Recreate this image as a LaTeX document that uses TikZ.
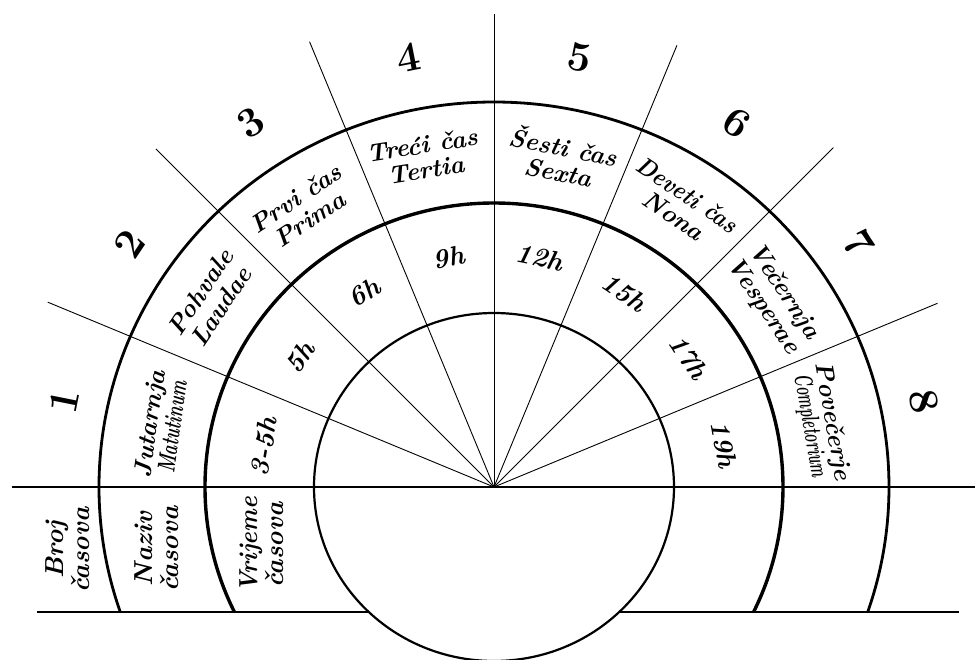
\documentclass[tikz,border=0pt]{standalone}
\usepackage{fontspec}
\begin{document}
\begin{tikzpicture}[x=1pt,y=1pt,
  outerarc/.style={line width=2.8pt},
  midarc/.style={line width=3.4pt},
  innerarc/.style={line width=2.2pt},
  hline/.style={line width=1.4pt},
  ray/.style={line width=0.9pt},
  lbl/.style={font=\bfseries\itshape\fontsize{25}{25}\selectfont, align=center, inner sep=0pt},
  num/.style={font=\bfseries\fontsize{42}{42}\selectfont, inner sep=0pt},
  hour/.style={font=\bfseries\itshape\fontsize{27}{27}\selectfont, inner sep=0pt},
  col/.style={font=\bfseries\itshape\fontsize{26}{26}\selectfont, align=center, inner sep=0pt, rotate=90}]
\useasboundingbox (-494,-172) rectangle (481,487);
\coordinate (c) at (0,0);
% arcs
\begin{scope}
\clip (-494,-125) rectangle (481,487);
\draw[outerarc] (c) ellipse [x radius=395, y radius=385];
\draw[midarc] (c) ellipse [x radius=289, y radius=284];
\end{scope}
\draw[innerarc] (c) ellipse [x radius=180, y radius=174];
% horizontal lines
\coordinate (hl) at (-482,0);
\coordinate (hr) at (481,0);
\draw[hline] (hl) -- (hr);
\coordinate (ll) at (-457,-125);
\coordinate (lc1) at (-125,-125);
\coordinate (lc2) at (125,-125);
\coordinate (lr) at (465,-125);
\draw[hline] (ll) -- (lc1);
\draw[hline] (lc2) -- (lr);
% rays
\foreach \i/\a/\r in {1/22.5/480,2/45/480,3/67.5/478,4/90/473,5/112.5/482,6/135/478,7/157.5/483}{
  \coordinate (r\i) at (\a:\r);
  \draw[ray] (c) -- (r\i);
}
% numbers
\foreach \n/\a in {1/168.75,2/146.25,3/123.75,4/101.25,5/78.75,6/56.25,7/33.75,8/11.25}{
  \node[num, rotate=\a-90] (n\n) at (\a:438) {\n};
}
% hours
\foreach \i/\a/\t in {1/170/3-5h,2/146.25/5h,3/123.75/6h,4/101.25/9h,5/78.75/12h,6/56.25/15h,7/33.75/17h,8/10.5/19h}{
  \node[hour, rotate=\a-90] (h\i) at (\a:234) {\t};
}
% names
\node[lbl, rotate=82] (s1) at (169.5:339) {Jutarnja\\[-2pt]\scalebox{0.66}[1]{Matutinum}};
\node[lbl, rotate=56.25] (s2) at (146.5:340) {Pohvale\\Laudae};
\node[lbl, rotate=33.75] (s3) at (124.5:338) {Prvi čas\\Prima};
\node[lbl, rotate=9] (s4) at (102:337) {Treći čas\\Tertia};
\node[lbl, rotate=-11.25] (s5) at (78.5:336) {Šesti čas\\Sexta};
\node[lbl, rotate=-33.75] (s6) at (56.5:338) {\scalebox{0.9}[1]{Deveti čas}\\Nona};
\node[lbl, rotate=-56.25] (s7) at (34:337) {Večernja\\Vesperae};
\node[lbl, rotate=-80] (s8) at (11:333) {Povečerje\\[-2pt]\scalebox{0.58}[1]{Completorium}};
% column headings
\node[col] (b1) at (-426,-63) {Broj\\časova};
\node[col] (b2) at (-337,-62) {Naziv\\časova};
\node[col] (b3) at (-232,-58) {\scalebox{0.92}[1]{Vrijeme}\\časova};
\end{tikzpicture}
\end{document}
